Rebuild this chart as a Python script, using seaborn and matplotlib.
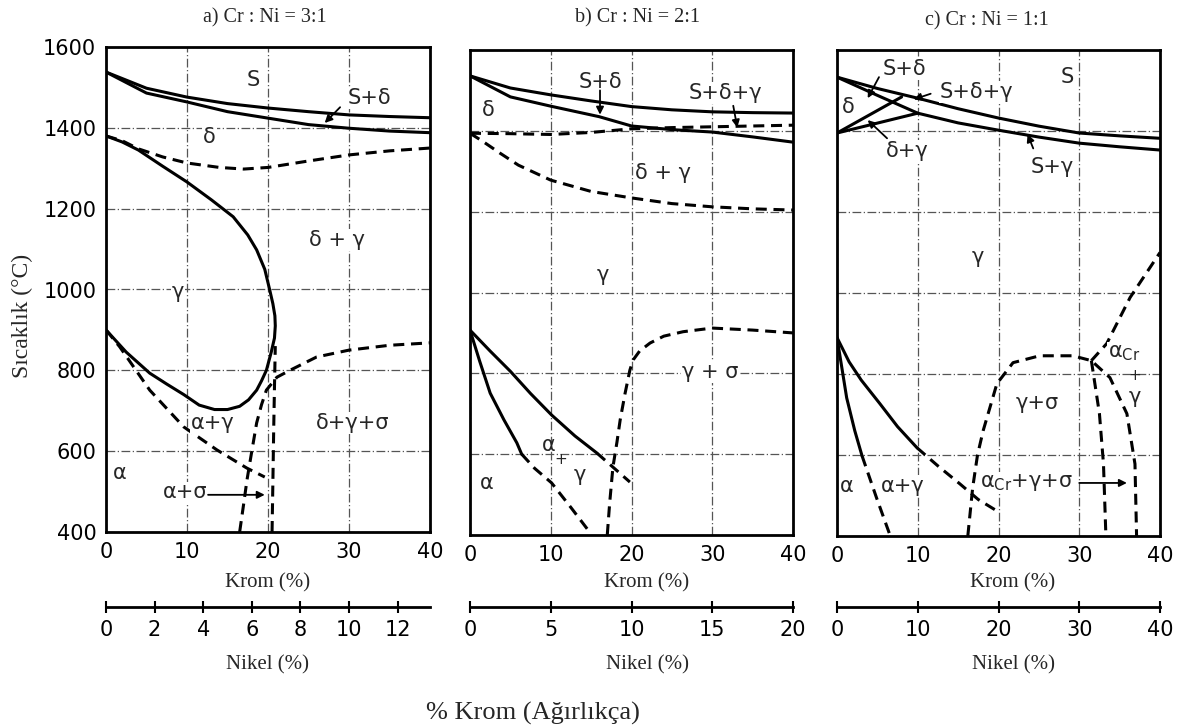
import matplotlib
matplotlib.use("Agg")
import matplotlib.pyplot as plt
import seaborn as sns

# ---------------- data (Cr %, temperature °C) ----------------
# Panel a) Cr:Ni = 3:1
a_liq_x = [0, 5, 10, 15, 20, 25, 30, 35, 40]
a_liq_y = [1538, 1498, 1476, 1460, 1449, 1440, 1432, 1428, 1425]
a_sol_x = [0, 5, 10, 15, 20, 25, 30, 35, 40]
a_sol_y = [1538, 1486, 1464, 1440, 1424, 1408, 1399, 1392, 1388]
a_dl_x = [0, 2, 4, 7, 10, 14, 17, 20, 25, 30, 35, 40]
a_dl_y = [1380, 1368, 1348, 1328, 1313, 1302, 1298, 1302, 1318, 1333, 1343, 1350]
a_loop_x = [0, 2, 4, 7, 10, 13, 15.7, 17.5, 18.6, 19.6, 20.2, 20.6, 20.85, 20.9, 20.8, 20.4,
            19.8, 19.2, 18.6, 17.6, 16.5, 15, 13.4, 11.5, 9.6, 7.5, 5.4, 2.5, 0]
a_loop_y = [1380, 1365, 1345, 1305, 1266, 1222, 1180, 1135, 1098, 1050, 1000, 965, 935, 910, 880, 845,
            800, 774, 751, 727, 711, 703, 703, 714, 740, 766, 793, 845, 900]
a_al_x = [0, 1.7, 5.4, 9.6, 13.7, 17.4, 19.6]
a_al_y = [900, 858, 751, 660, 603, 558, 536]
a_s1_x = [16.5, 17.0, 17.4, 18.0, 18.6, 19.2, 19.8, 21.1, 22.7, 26, 30, 35, 40]
a_s1_y = [400, 470, 528, 600, 670, 715, 751, 783, 800, 833, 850, 862, 868]
a_s2_x = [20.5, 20.6, 20.7, 20.8, 20.9]
a_s2_y = [400, 520, 650, 760, 860]

# Panel b) Cr:Ni = 2:1
b_liq_x = [0, 5, 10, 15, 20, 25, 30, 35, 40]
b_liq_y = [1536, 1506, 1489, 1474, 1460, 1452, 1447, 1445, 1444]
b_sol_x = [0, 5, 10, 16, 20, 25, 30, 35, 40]
b_sol_y = [1536, 1484, 1461, 1435, 1412, 1403, 1397, 1385, 1372]
b_dt_x = [0, 5, 10, 15, 20, 25, 30, 35, 40]
b_dt_y = [1394, 1393, 1391, 1396, 1405, 1408, 1410, 1412, 1414]
b_dl_x = [0, 1.5, 3.7, 6, 10, 15, 20, 25, 30, 35, 40]
b_dl_y = [1394, 1375, 1345, 1315, 1278, 1250, 1234, 1220, 1212, 1207, 1204]
b_ag1_x = [0, 2.5, 5, 7.5, 10.1, 13, 15.7]
b_ag1_y = [907, 855, 805, 750, 697, 645, 603]
b_ag1d_x = [15.7, 17.7, 19.8]
b_ag1d_y = [603, 568, 531]
b_ag2_x = [0, 1.2, 2.5, 4.2, 5.8, 6.4]
b_ag2_y = [907, 830, 751, 685, 628, 600]
b_ag2d_x = [6.4, 8, 10.1, 12.5, 14.9]
b_ag2d_y = [600, 565, 529, 468, 405]
b_sg_x = [17, 17.3, 17.7, 18.2, 18.6, 19.2, 19.8, 20.2, 21, 22.3, 24, 26.4, 30, 35, 40]
b_sg_y = [400, 480, 568, 630, 685, 750, 808, 833, 855, 875, 892, 903, 912, 907, 900]

# Panel c) Cr:Ni = 1:1
c_liq_x = [0, 5, 10, 15, 20, 25, 30, 35, 40]
c_liq_y = [1533, 1505, 1481, 1455, 1432, 1412, 1395, 1388, 1382]
c_sol_x = [0, 5, 10, 15, 20, 25, 30, 35, 40]
c_sol_y = [1533, 1488, 1444, 1420, 1402, 1385, 1370, 1361, 1353]
c_dlow_x = [0, 10]
c_dlow_y = [1395, 1444]
c_dx_x = [0, 8]
c_dx_y = [1395, 1484]
c_ag1_x = [0, 1.5, 3, 5.3, 7.5, 9.9]
c_ag1_y = [890, 830, 785, 727, 670, 618]
c_ag1d_x = [9.9, 12.5, 15.2, 17.5, 19.8]
c_ag1d_y = [618, 573, 529, 490, 462]
c_ag2_x = [0, 1.2, 2.2, 3.1]
c_ag2_y = [890, 741, 660, 598]
c_ag2d_x = [3.1, 4.9, 6.6]
c_ag2d_y = [598, 494, 400]
c_sg_x = [16.2, 16.8, 17.4, 18.1, 19.8, 21.8, 25.1, 29.2, 31.5, 33.8, 35.9, 36.9, 37.1]
c_sg_y = [400, 519, 600, 660, 776, 828, 845, 845, 833, 791, 702, 578, 400]
c_s2_x = [31.5, 32.5, 33.0, 33.3]
c_s2_y = [833, 702, 578, 400]
c_acr_x = [31.5, 33.4, 36.3, 40]
c_acr_y = [833, 875, 989, 1100]

titles = ["a) Cr : Ni = 3:1", "b) Cr : Ni = 2:1", "c) Cr : Ni = 1:1"]
cr_ticks = [0, 10, 20, 30, 40]
t_ticks = [400, 600, 800, 1000, 1200, 1400, 1600]
ni_ratio = [3, 2, 1]
ni_ticks = [[0, 2, 4, 6, 8, 10, 12], [0, 5, 10, 15, 20], [0, 10, 20, 30, 40]]

# ---------------- figure ----------------
sns.set_theme(style="white")
plt.rcParams['font.family'] = ['DejaVu Sans']
W, H = 1179, 728
fig = plt.figure(figsize=(W / 100, H / 100), dpi=100)

boxes = [(106, 430, 47, 532), (470, 793, 50, 535), (837, 1160, 50, 536)]
title_pos = [(265, 18), (638, 18), (987, 21)]
lab_x = [268, 647, 1013]
SERIF = ['Liberation Serif', 'DejaVu Serif']
LBL = 15


def curve(ax, xs, ys, dashed=False):
    sns.lineplot(x=xs, y=ys, sort=False, estimator=None, ax=ax, color='black',
                 lw=2.2, linestyle=(0, (3.6, 2.2)) if dashed else '-', zorder=2)


def lab(ax, x, y, s, size=LBL):
    ax.text(x, y, s, ha='center', va='center', fontsize=size, zorder=4,
            bbox=dict(fc='white', ec='none', pad=0.6))


def arrow(ax, start, tip):
    ax.annotate('', xy=tip, xytext=start, zorder=4,
                arrowprops=dict(arrowstyle='-|>', color='black', lw=1.3,
                                mutation_scale=11, shrinkA=0, shrinkB=0))


axes = []
for i, (l, r, t, b) in enumerate(boxes):
    ax = fig.add_axes([l / W, 1 - b / H, (r - l) / W, (b - t) / H])
    ax.set_xlim(0, 40)
    ax.set_ylim(400, 1600)
    ax.set_xticks(cr_ticks)
    ax.set_yticks(t_ticks)
    ax.grid(True, color='#555555', lw=0.9, ls=(0, (7, 2, 1, 2)))
    ax.set_axisbelow(True)
    for sp in ax.spines.values():
        sp.set_color('black')
        sp.set_linewidth(2)
    ax.tick_params(length=0, labelsize=15, pad=7, colors='black')
    if i > 0:
        ax.set_yticklabels([])
    ax.set_xlabel('')
    ax.set_ylabel('')
    axes.append(ax)
    fig.text(title_pos[i][0] / W, 1 - title_pos[i][1] / H, titles[i], ha='center', va='center',
             fontsize=14.5, family=SERIF)
    fig.text(lab_x[i] / W, 1 - 583 / H, 'Krom (%)', ha='center', va='center', fontsize=15, family=SERIF)
    fig.text(lab_x[i] / W, 1 - 665 / H, 'Nikel (%)', ha='center', va='center', fontsize=15, family=SERIF)
    # nickel scale
    axn = fig.add_axes([l / W, 1 - 607 / H, (r - l) / W, 0.0001])
    axn.set_xlim(0, 40 / ni_ratio[i])
    axn.set_ylim(0, 1)
    for k in ['top', 'left', 'right']:
        axn.spines[k].set_visible(False)
    axn.spines['bottom'].set_linewidth(2)
    axn.spines['bottom'].set_color('black')
    axn.set_yticks([])
    axn.set_xticks(ni_ticks[i])
    axn.tick_params(axis='x', bottom=True, direction='inout', length=9, width=1.5, labelsize=15,
                    pad=5, colors='black')
    axn.patch.set_alpha(0)

fig.text(22 / W, 1 - 316 / H, 'Sıcaklık (°C)', rotation=90, ha='center', va='center',
         fontsize=17, family=SERIF)
fig.text(533 / W, 1 - 713 / H, '% Krom (Ağırlıkça)', ha='center', va='center', fontsize=19,
         family=SERIF)

# ---- panel a ----
ax = axes[0]
curve(ax, a_liq_x, a_liq_y)
curve(ax, a_sol_x, a_sol_y)
curve(ax, a_dl_x, a_dl_y, True)
curve(ax, a_loop_x, a_loop_y)
curve(ax, a_al_x, a_al_y, True)
curve(ax, a_s1_x, a_s1_y, True)
curve(ax, a_s2_x, a_s2_y, True)
lab(ax, 18.2, 1518, 'S')
lab(ax, 32.5, 1474, 'S+δ')
arrow(ax, (28.9, 1451), (27, 1412))
lab(ax, 12.8, 1378, 'δ')
lab(ax, 28.5, 1122, 'δ + γ')
lab(ax, 8.9, 994, 'γ')
lab(ax, 13.2, 670, 'α+γ')
lab(ax, 30.5, 670, 'δ+γ+σ')
lab(ax, 1.7, 546, 'α')
lab(ax, 9.8, 498, 'α+σ')
arrow(ax, (12.6, 492), (19.6, 492))

# ---- panel b ----
ax = axes[1]
curve(ax, b_liq_x, b_liq_y)
curve(ax, b_sol_x, b_sol_y)
curve(ax, b_dt_x, b_dt_y, True)
curve(ax, b_dl_x, b_dl_y, True)
curve(ax, b_ag1_x, b_ag1_y)
curve(ax, b_ag1d_x, b_ag1d_y, True)
curve(ax, b_ag2_x, b_ag2_y)
curve(ax, b_ag2d_x, b_ag2d_y, True)
curve(ax, b_sg_x, b_sg_y, True)
lab(ax, 16.1, 1521, 'S+δ')
arrow(ax, (16.1, 1500), (16.1, 1440))
lab(ax, 2.2, 1451, 'δ')
lab(ax, 31.6, 1493, 'S+δ+γ')
arrow(ax, (32.6, 1462), (33.1, 1408))
lab(ax, 23.9, 1296, 'δ + γ')
lab(ax, 16.5, 1043, 'γ')
lab(ax, 29.7, 803, 'γ + σ')
lab(ax, 2.1, 529, 'α')
ax.text(9.7, 623, 'α', ha='center', va='center', fontsize=LBL, zorder=4)
ax.text(11.3, 587, '+', ha='center', va='center', fontsize=11, zorder=4)
ax.text(13.6, 549, 'γ', ha='center', va='center', fontsize=LBL, zorder=4)

# ---- panel c ----
ax = axes[2]
curve(ax, c_liq_x, c_liq_y)
curve(ax, c_sol_x, c_sol_y)
curve(ax, c_dlow_x, c_dlow_y)
curve(ax, c_dx_x, c_dx_y)
curve(ax, c_ag1_x, c_ag1_y)
curve(ax, c_ag1d_x, c_ag1d_y, True)
curve(ax, c_ag2_x, c_ag2_y)
curve(ax, c_ag2d_x, c_ag2d_y, True)
curve(ax, c_sg_x, c_sg_y, True)
curve(ax, c_s2_x, c_s2_y, True)
curve(ax, c_acr_x, c_acr_y, True)
lab(ax, 8.4, 1552, 'S+δ')
arrow(ax, (5.2, 1533), (3.8, 1481))
ax.text(1.4, 1459, 'δ', ha='center', va='center', fontsize=LBL, zorder=4)
lab(ax, 17.3, 1496, 'S+δ+γ')
arrow(ax, (11.6, 1492), (9.5, 1478))
lab(ax, 8.7, 1350, 'δ+γ')
arrow(ax, (6.2, 1382), (3.8, 1427))
lab(ax, 28.5, 1533, 'S')
lab(ax, 26.6, 1311, 'S+γ')
arrow(ax, (24.3, 1357), (23.6, 1392))
lab(ax, 17.5, 1088, 'γ')
lab(ax, 24.8, 729, 'γ+σ')
lab(ax, 35.6, 853, r'α$_{\rm Cr}$')
ax.text(36.9, 796, '+', ha='center', va='center', fontsize=11, zorder=4)
lab(ax, 36.9, 742, 'γ')
lab(ax, 1.2, 524, 'α')
lab(ax, 8.2, 524, 'α+γ')
lab(ax, 23.5, 531, r'α$_{\rm Cr}$+γ+σ')
arrow(ax, (30.0, 531), (35.9, 531))

fig.savefig('out.png', dpi=100)
